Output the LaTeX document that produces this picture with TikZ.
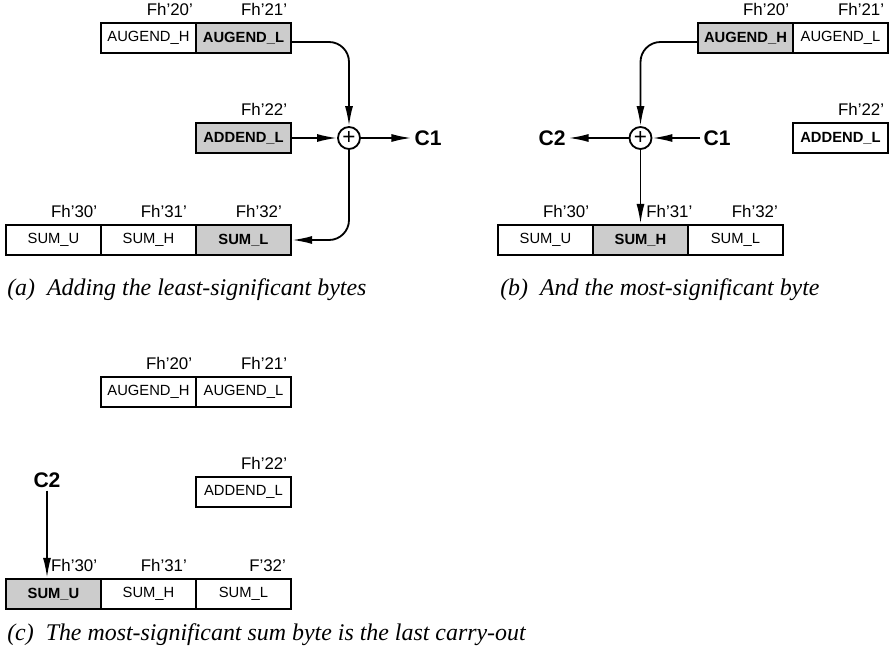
\documentclass[tikz,border=0pt]{standalone}
\usepackage{fontspec}
\setmainfont{Liberation Serif}
\setsansfont{Liberation Sans}
\usepackage{tikz}
\usetikzlibrary{arrows.meta}

\begin{document}
\begin{tikzpicture}[
            reg/.style={draw, rectangle, line width=1.6pt, minimum width=2.375cm, minimum height=0.75cm, inner sep=0pt, font=\sffamily\fontsize{10.5}{12}\selectfont},
            sel/.style={reg, fill=black!20, font=\sffamily\bfseries\fontsize{10.5}{12}\selectfont},
            bold/.style={reg, font=\sffamily\bfseries\fontsize{10.5}{12}\selectfont},
            addr/.style={anchor=south east, inner sep=0pt, font=\sffamily\fontsize{12}{13}\selectfont},
            carry/.style={inner sep=2pt, font=\sffamily\bfseries\fontsize{15}{16}\selectfont},
            adder/.style={draw, circle, line width=1.3pt, minimum size=0.55cm, inner sep=0pt, font=\sffamily\fontsize{16}{16}\selectfont},
            flow/.style={-{Latex[length=0.5cm, width=0.2cm]}, line width=1.3pt, rounded corners=0.5cm},
            subcap/.style={anchor=west, inner sep=0pt, font=\rmfamily\itshape\fontsize{17}{19}\selectfont}]

            \useasboundingbox (0,0) rectangle (22.225,-16.4);

            % (a) 低字节相加
            \node[reg] (augH_a) at (3.7125,-0.95) {AUGEND\_H};
            \node[sel] (augL_a) at (6.0875,-0.95) {AUGEND\_L};
            \node[sel] (addL_a) at (6.0875,-3.45) {ADDEND\_L};
            \node[reg] (sumU_a) at (1.3375,-6.0) {SUM\_U};
            \node[reg] (sumH_a) at (3.7125,-6.0) {SUM\_H};
            \node[sel] (sumL_a) at (6.0875,-6.0) {SUM\_L};
            \node[adder] (plus_a) at (8.725,-3.45) {+};
            \node[carry] (c1_a) at (10.7,-3.45) {C1};

            \node[addr] (a20) at ([xshift=-0.1cm, yshift=0.15cm]augH_a.north east) {Fh'20'};
            \node[addr] (a21) at ([xshift=-0.12cm, yshift=0.15cm]augL_a.north east) {Fh'21'};
            \node[addr] (a22) at ([xshift=-0.12cm, yshift=0.15cm]addL_a.north east) {Fh'22'};
            \node[addr] (a30) at ([xshift=-0.12cm, yshift=0.15cm]sumU_a.north east) {Fh'30'};
            \node[addr] (a31) at ([xshift=-0.25cm, yshift=0.15cm]sumH_a.north east) {Fh'31'};
            \node[addr] (a32) at ([xshift=-0.25cm, yshift=0.15cm]sumL_a.north east) {Fh'32'};

            \draw[flow] ([yshift=-0.1cm]augL_a.east) -| (plus_a.north);
            \draw[flow] (addL_a.east) -- (plus_a.west);
            \draw[flow] (plus_a.east) -- (c1_a.west);
            \draw[flow] (plus_a.south) |- (sumL_a.east);

            \node[subcap] (cap_a) at (0.175,-7.25) {(a)\enspace Adding the least-significant bytes};

            % (b) 高字节相加
            \node[sel] (augH_b) at (18.6375,-0.95) {AUGEND\_H};
            \node[reg] (augL_b) at (21.0125,-0.95) {AUGEND\_L};
            \node[bold] (addL_b) at (21.0125,-3.45) {ADDEND\_L};
            \node[reg] (sumU_b) at (13.6375,-6.0) {SUM\_U};
            \node[sel] (sumH_b) at (16.0125,-6.0) {SUM\_H};
            \node[reg] (sumL_b) at (18.3875,-6.0) {SUM\_L};
            \node[adder] (plus_b) at (16.0125,-3.45) {+};
            \node[carry] (c1_b) at (17.925,-3.45) {C1};
            \node[carry] (c2_b) at (13.8,-3.45) {C2};

            \node[addr] (b20) at ([xshift=-0.12cm, yshift=0.15cm]augH_b.north east) {Fh'20'};
            \node[addr] (b21) at ([xshift=-0.12cm, yshift=0.15cm]augL_b.north east) {Fh'21'};
            \node[addr] (b22) at ([xshift=-0.12cm, yshift=0.15cm]addL_b.north east) {Fh'22'};
            \node[addr] (b30) at ([xshift=-0.12cm, yshift=0.15cm]sumU_b.north east) {Fh'30'};
            \node[addr, anchor=south west] (b31) at ([xshift=0.14cm, yshift=0.15cm]sumH_b.north) {Fh'31'};
            \node[addr] (b32) at ([xshift=-0.15cm, yshift=0.15cm]sumL_b.north east) {Fh'32'};

            \draw[flow] ([yshift=-0.1cm]augH_b.west) -| (plus_b.north);
            \draw[flow] (c1_b.west) -- (plus_b.east);
            \draw[flow] (plus_b.west) -- (c2_b.east);
            \draw[flow] (plus_b.south) -- (sumH_b.north);

            \node[subcap] (cap_b) at (12.5,-7.25) {(b)\enspace And the most-significant byte};

            % (c) 最后的进位
            \node[reg] (augH_c) at (3.7125,-9.8) {AUGEND\_H};
            \node[reg] (augL_c) at (6.0875,-9.8) {AUGEND\_L};
            \node[reg] (addL_c) at (6.0875,-12.3) {ADDEND\_L};
            \node[sel] (sumU_c) at (1.3375,-14.85) {SUM\_U};
            \node[reg] (sumH_c) at (3.7125,-14.85) {SUM\_H};
            \node[reg] (sumL_c) at (6.0875,-14.85) {SUM\_L};
            \node[carry] (c2_c) at (1.175,-12.0) {C2};

            \node[addr] (c20) at ([xshift=-0.12cm, yshift=0.15cm]augH_c.north east) {Fh'20'};
            \node[addr] (c21) at ([xshift=-0.12cm, yshift=0.15cm]augL_c.north east) {Fh'21'};
            \node[addr] (c22) at ([xshift=-0.12cm, yshift=0.15cm]addL_c.north east) {Fh'22'};
            \node[addr] (c30) at ([xshift=-0.12cm, yshift=0.15cm]sumU_c.north east) {Fh'30'};
            \node[addr] (c31) at ([xshift=-0.25cm, yshift=0.15cm]sumH_c.north east) {Fh'31'};
            \node[addr] (c32) at ([xshift=-0.15cm, yshift=0.15cm]sumL_c.north east) {F'32'};

            \draw[flow] (c2_c.south) -- (c2_c.south |- sumU_c.north);

            \node[subcap] (cap_c) at (0.175,-15.875) {(c)\enspace The most-significant sum byte is the last carry-out};
        \end{tikzpicture}
\end{document}
